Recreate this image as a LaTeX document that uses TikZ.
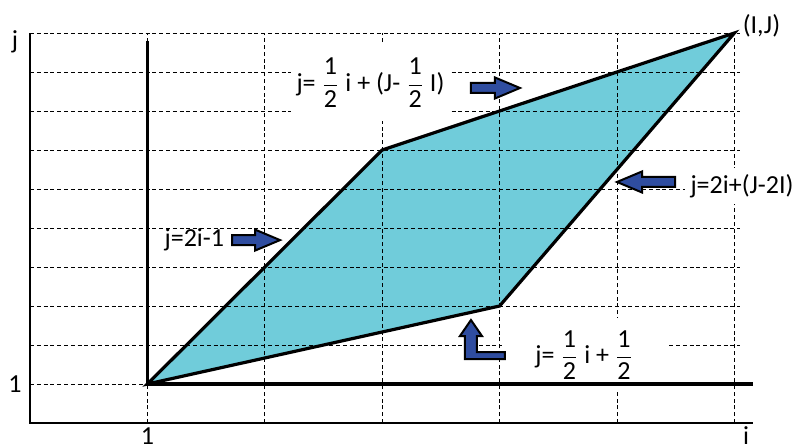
\documentclass[tikz,border=0pt]{standalone}
\usepackage{amsmath}
\usepackage{fontspec}
\setmainfont{Carlito}
\usepackage{tikz}
\usetikzlibrary{positioning}
\definecolor{regioncyan}{RGB}{112,204,218}
\definecolor{arrowblue}{RGB}{47,77,160}
\tikzstyle{gridline} = [line width=0.5pt, dash pattern=on 2pt off 1.4pt]
\tikzstyle{axisline} = [line width=1.6pt]
\tikzstyle{frameline} = [line width=0.8pt]
\tikzstyle{eqtext} = [inner sep=1pt, font=\fontsize{13}{15}\selectfont]
\tikzstyle{eqbox} = [eqtext, fill=white, inner xsep=3pt]
\tikzstyle{arrowshape} = [draw=black, fill=arrowblue, line width=1pt, line join=miter]
\tikzset{pics/fatarrow/.style={code={
  \draw[arrowshape] (0,-2.5pt) -- (#1-12.5pt,-2.5pt) -- (#1-12.5pt,-5.25pt) -- (#1,0pt)
    -- (#1-12.5pt,5.25pt) -- (#1-12.5pt,2.5pt) -- (0,2.5pt) -- cycle;}}}
\newcommand{\half}{\ensuremath{\dfrac{\text{1}}{\text{2}}}}

\begin{document}
\begin{tikzpicture}[x=58.7pt, y=19.5pt]
\useasboundingbox (-15pt,-11.5pt) rectangle (384pt,211.5pt);

% Corners of the region
\coordinate (start) at (1,1);
\coordinate (upper) at (3,7);
\coordinate (corner) at (6,10);
\coordinate (lower) at (4,3);
\coordinate (itop) at (1,9.795);
\coordinate (iend) at (6.158,1);

% Region
\fill[regioncyan] (start) -- (upper) -- (corner) -- (lower) -- cycle;

% Grid
\foreach \r in {1,...,10} \draw[gridline] (0,\r) -- (6.05,\r);
\foreach \c in {1,...,6} \draw[gridline] (\c,0) -- (\c,10);

% Frame
\draw[frameline] (0,10) -- (0,0) -- (6.158,0);

% Equations
\node (topeq) [eqbox, minimum height=38pt] at (2.90,8.72) {j= \half{} i + (J- \half{} I)};
\node (righteq) [eqbox, inner ysep=3pt] at (6.065,6.08) {j=2i+(J-2I)};
\node (loweq) [eqbox, minimum width=82pt, minimum height=37pt] at (4.72,1.74) {j= \half{} i + \half};
\node (lefteq) [eqtext] at (1.40,4.69) {j=2i-1};

% Border and axes
\draw[axisline, line join=miter] (start) -- (upper) -- (corner) -- (lower) -- cycle;
\draw[axisline] (itop) -- (start) -- (iend);

% Axis labels
\node (jlabel) [eqtext] at (-0.128,9.77) {j};
\node (onej) [eqtext] at (-0.128,1) {1};
\node (onei) [eqtext] at (1,-0.33) {1};
\node (ilabel) [eqtext] at (6.1,-0.31) {i};
\node (cornerlabel) [eqtext, anchor=west] at ([xshift=3pt, yshift=3.5pt]corner) {(I,J)};

% Arrows
\pic (toparrow) at (3.756,8.59) {fatarrow=24.5pt};
\pic (rightarrow) [rotate=180] at (5.494,6.18) {fatarrow=29pt};
\pic (leftarrow) at (1.721,4.69) {fatarrow=24pt};
\draw[arrowshape] (3.705,1.641) -- ++(0,11.5pt) -- ++(-2.5pt,0) -- ++(5.5pt,8pt)
  -- ++(5.5pt,-8pt) -- ++(-2.5pt,0) -- ++(0,-8pt) -- ++(14pt,0) -- ++(0,-3.5pt) -- cycle;

\end{tikzpicture}
\end{document}
